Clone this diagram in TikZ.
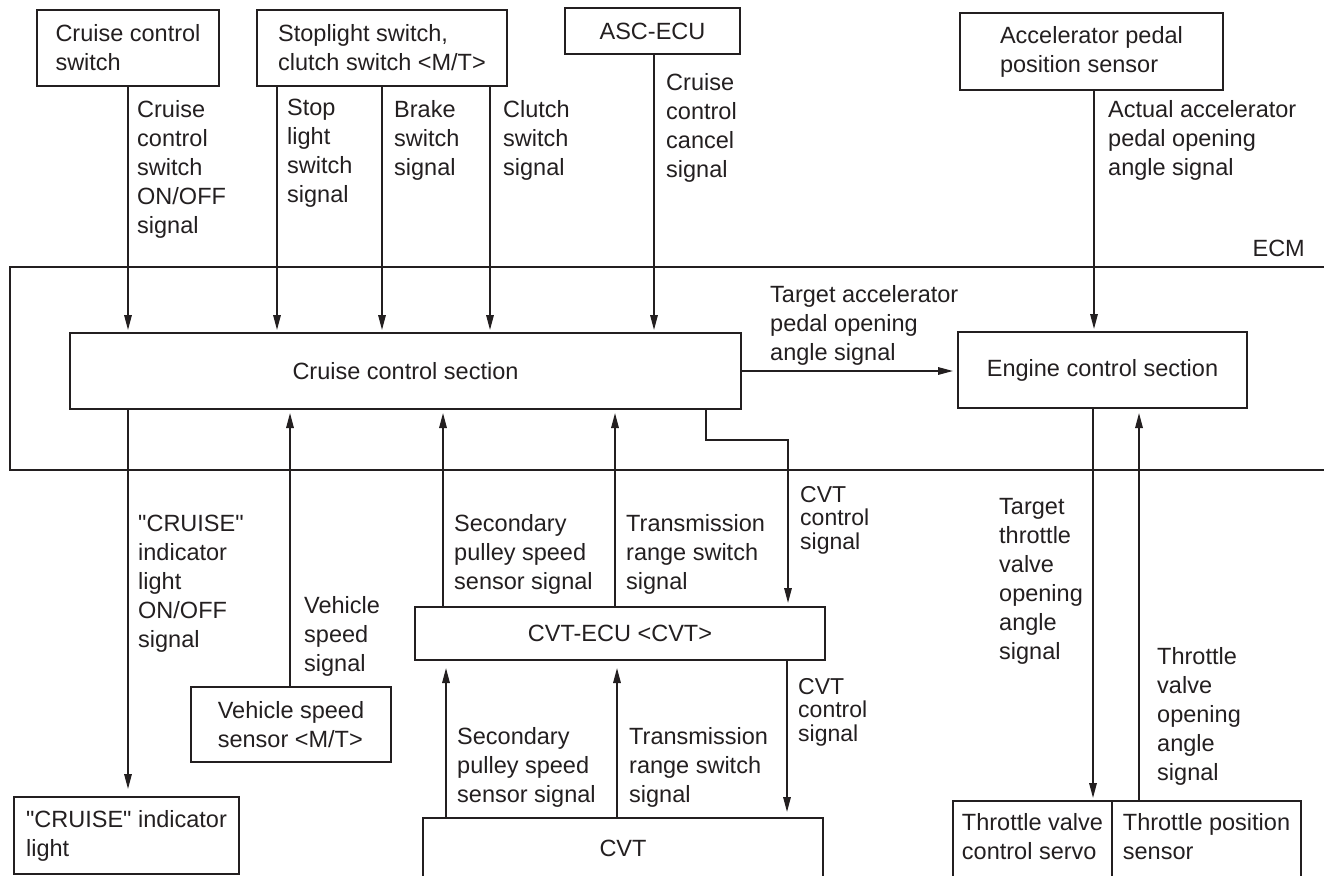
\documentclass[tikz,border=0pt]{standalone}
\usepackage{fontspec}
\setmainfont{Liberation Sans}
\usepackage{tikz}
\usetikzlibrary{arrows.meta}
\usetikzlibrary{positioning}
\definecolor{ink}{RGB}{35,31,32}
\tikzset{box/.style={draw=ink, line width=1.8pt, inner sep=0pt, outer sep=0pt, align=left, text=ink, font=\fontsize{23.5}{29}\selectfont}}
\tikzset{txt/.style={inner sep=0pt, align=left, text=ink, font=\fontsize{23.5}{29}\selectfont}}
\tikzset{sig/.style={txt, anchor=north west}}
\tikzset{sigt/.style={sig, font=\fontsize{23}{23.5}\selectfont}}
\tikzset{wire/.style={draw=ink, line width=1.6pt, ->, shorten >=4pt}}
\newcommand{\qt}{\textquotedbl}

\begin{document}
\begin{tikzpicture}[x=1pt, y=-1pt, >={Triangle[length=15pt,width=7.5pt]}]
        \path[use as bounding box, clip] (0,0) rectangle (1324,875);
        % sources on top
        \node[box, minimum width=182pt, minimum height=76pt] (ccsw) at (128,48) {Cruise control\\switch};
        \node[box, minimum width=250pt, minimum height=76pt] (slsw) at (382,48) {Stoplight switch,\\clutch switch <M/T>};
        \node[box, minimum width=175pt, minimum height=46pt] (asc) at (652.5,31) {ASC-ECU};
        \node[box, minimum width=263pt, minimum height=77pt] (apps) at (1091.5,51.5) {Accelerator pedal\\position sensor};
        % ECM
        \node[box, minimum width=1330pt, minimum height=203pt] (ecm) at (675,368.5) {};
        \node[txt, anchor=south east] (ecmlbl) at (1305,257) {ECM};
        \node[box, minimum width=671pt, minimum height=76pt] (ccs) at (405.5,371) {Cruise control section};
        \node[box, minimum width=289pt, minimum height=76pt] (ecs) at (1102.5,370) {Engine control section};
        % below the ECM
        \node[box, minimum width=410pt, minimum height=53pt] (tcu) at (620,633.5) {CVT-ECU <CVT>};
        \node[box, minimum width=200pt, minimum height=75pt] (vss) at (291,724.5) {Vehicle speed\\sensor <M/T>};
        \node[box, minimum width=225pt, minimum height=77pt] (lamp) at (126.5,835.5) {\qt CRUISE\qt\ indicator\\light};
        \node[box, minimum width=400pt, minimum height=60pt] (cvt) at (623,848) {CVT};
        \node[box, anchor=north west, minimum width=159pt, minimum height=90pt] (tvcs) at (953,801) {};
        \node[txt, below=12pt of tvcs.north] (tvcstxt) {Throttle valve\\control servo};
        \node[box, anchor=north west, minimum width=189pt, minimum height=90pt] (tps) at (1112,801) {};
        \node[txt, below=12pt of tps.north] (tpstxt) {Throttle position\\sensor};

        % signals into the cruise control section
        \draw[wire, shorten >=3pt] (ccsw.south) -- (ccs.north -| ccsw.south);
        \draw[wire, shorten >=3pt] (slsw.south -| 277,0) -- (ccs.north -| 277,0);
        \draw[wire, shorten >=3pt] (slsw.south -| 382,0) -- (ccs.north -| 382,0);
        \draw[wire, shorten >=3pt] (slsw.south -| 490,0) -- (ccs.north -| 490,0);
        \draw[wire, shorten >=3pt] (asc.south -| 654,0) -- (ccs.north -| 654,0);
        \draw[wire, shorten >=3pt] (apps.south -| 1094,0) -- (ecs.north -| 1094,0);
        \draw[wire, shorten >=5pt] (ccs.east) -- (ecs.west |- ccs.east);
        \coordinate (bend) at (788,440);
        \draw[wire] (ccs.south -| 706,0) |- (bend) -- (tcu.north -| bend);
        \draw[wire, shorten >=8pt] (ccs.south -| 128,0) -- (lamp.north -| 128,0);
        \draw[wire] (vss.north -| 290,0) -- (ccs.south -| 290,0);
        \draw[wire] (tcu.north -| 443,0) -- (ccs.south -| 443,0);
        \draw[wire] (tcu.north -| 615,0) -- (ccs.south -| 615,0);
        \draw[wire, shorten >=8pt] (cvt.north -| 446,0) -- (tcu.south -| 446,0);
        \draw[wire, shorten >=8pt] (cvt.north -| 617,0) -- (tcu.south -| 617,0);
        \draw[wire, shorten >=6pt] (tcu.south -| 787,0) -- (cvt.north -| 787,0);
        \draw[wire, shorten >=3pt] (ecs.south -| 1093,0) -- (tvcs.north -| 1093,0);
        \draw[wire, shorten >=5pt] (tps.north -| 1139,0) -- (ecs.south -| 1139,0);

        % signal names
        \node[sig] (onoff) at (137,100) {Cruise\\control\\switch\\ON/OFF\\signal};
        \node[sig] (stoplt) at (287,99) {Stop\\light\\switch\\signal};
        \node[sig] (brake) at (394,100) {Brake\\switch\\signal};
        \node[sig] (clutch) at (503,100) {Clutch\\switch\\signal};
        \node[sig] (cancel) at (666,73) {Cruise\\control\\cancel\\signal};
        \node[sig] (actual) at (1108,100) {Actual accelerator\\pedal opening\\angle signal};
        \node[sig] (target) at (770,285) {Target accelerator\\pedal opening\\angle signal};
        \node[sigt] (cvtup) at (800,486) {CVT\\control\\signal};
        \node[sig] (secup) at (454,514) {Secondary\\pulley speed\\sensor signal};
        \node[sig] (trup) at (626,514) {Transmission\\range switch\\signal};
        \node[sig] (lampsig) at (138,515) {\qt CRUISE\qt\\indicator\\light\\ON/OFF\\signal};
        \node[sig] (vspd) at (304,596) {Vehicle\\speed\\signal};
        \node[sig] (seclo) at (457,727) {Secondary\\pulley speed\\sensor signal};
        \node[sig] (trlo) at (629,727) {Transmission\\range switch\\signal};
        \node[sigt] (cvtlo) at (798,678) {CVT\\control\\signal};
        \node[sig] (tgtthr) at (999,498) {Target\\throttle\\valve\\opening\\angle\\signal};
        \node[sig] (thr) at (1157,647) {Throttle\\valve\\opening\\angle\\signal};
\end{tikzpicture}
\end{document}
